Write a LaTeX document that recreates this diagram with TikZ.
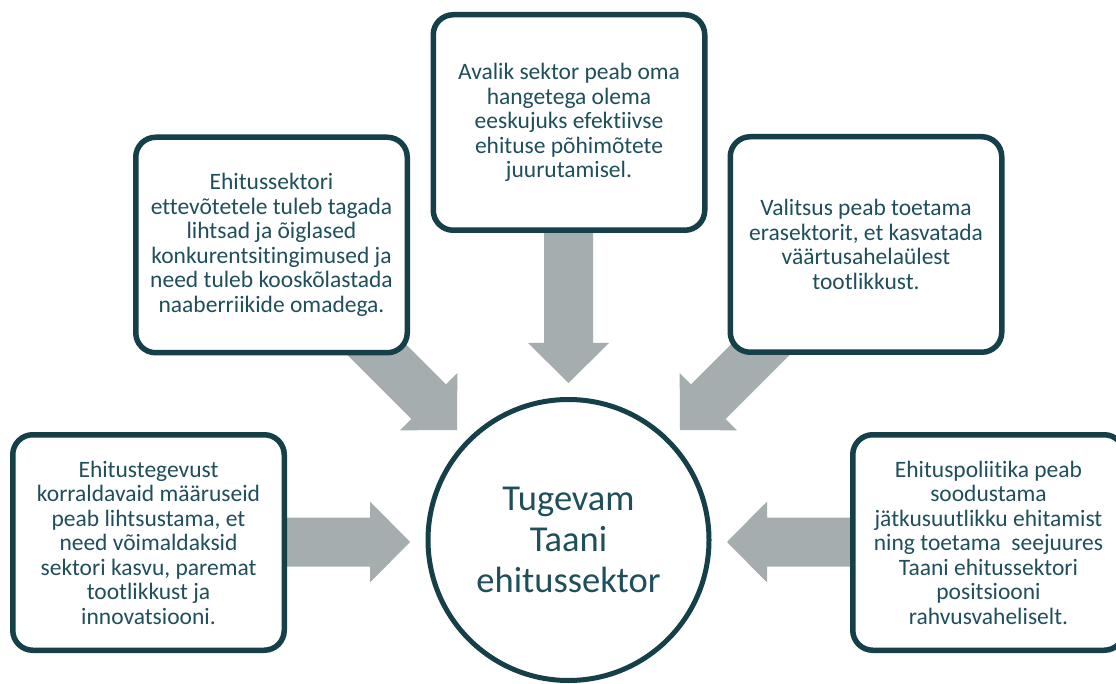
\documentclass[tikz,border=0pt]{standalone}
\usepackage{fontspec}
\setmainfont{Carlito}[Ligatures={NoCommon}]
\definecolor{edge}{HTML}{15404A}
\definecolor{ink}{HTML}{1F4F5A}
\definecolor{arrowgray}{HTML}{A6ADAF}
\tikzset{
  % block arrow, tip at the origin, pointing along +x; #1 = total length
  pics/blockarrow/.style={code={
    \fill[arrowgray] (0,0) -- (-40,40.5) -- (-40,24.5) -- (-#1,24.5)
      -- (-#1,-24.5) -- (-40,-24.5) -- (-40,-40.5) -- cycle;}},
  infobox/.style={draw=edge, line width=5.5pt, fill=white, rounded corners=20pt,
    align=center, text=ink, font=\fontsize{23.5}{24.5}\selectfont,
    minimum width=271.5pt, minimum height=215.5pt, inner sep=0pt},
  hubnode/.style={circle, draw=edge, line width=5pt, fill=white, align=center,
    text=ink, font=\fontsize{36.5}{41}\selectfont, minimum size=281pt, inner sep=0pt}
}
\begin{document}
\begin{tikzpicture}[x=1pt,y=-1pt]
\clip (0,0) rectangle (1116,684);
\fill[white] (0,0) rectangle (1116,684);

% arrow tips
\coordinate (tipT)  at (568.5,383);
\coordinate (tipUL) at (457,430);
\coordinate (tipUR) at (680,430);
\coordinate (tipL)  at (410,542);
\coordinate (tipR)  at (727,542);

\pic[rotate=-90]  at (tipT)  {blockarrow=160};
\pic[rotate=-45]  at (tipUL) {blockarrow=150};
\pic[rotate=-135] at (tipUR) {blockarrow=150};
\pic[rotate=0]    at (tipL)  {blockarrow=135};
\pic[rotate=180]  at (tipR)  {blockarrow=135};

% statement boxes
\node[infobox] (top) at (569,122.5)
  {Avalik sektor peab oma\\hangetega olema\\eeskujuks efektiivse\\ehituse põhimõtete\\juurutamisel.};
\node[infobox] (ul) at (271.5,245)
  {Ehitussektori\\ettevõtetele tuleb tagada\\lihtsad ja õiglased\\konkurentsitingimused ja\\need tuleb kooskõlastada\\naaberriikide omadega.};
\node[infobox] (ur) at (866,244.5)
  {Valitsus peab toetama\\erasektorit, et kasvatada\\väärtusahelaülest\\tootlikkust.};
\node[infobox] (ll) at (148.5,542.5)
  {Ehitustegevust\\korraldavaid määruseid\\peab lihtsustama, et\\need võimaldaksid\\sektori kasvu, paremat\\tootlikkust ja\\innovatsiooni.};
\node[infobox] (lr) at (988.5,542.5)
  {Ehituspoliitika peab\\soodustama\\jätkusuutlikku ehitamist\\ning toetama\ \ seejuures\\Taani ehitussektori\\positsiooni\\rahvusvaheliselt.};

% central goal
\node[hubnode] (hub) at (568.5,540) {Tugevam\\Taani\\ehitussektor};
\end{tikzpicture}
\end{document}
